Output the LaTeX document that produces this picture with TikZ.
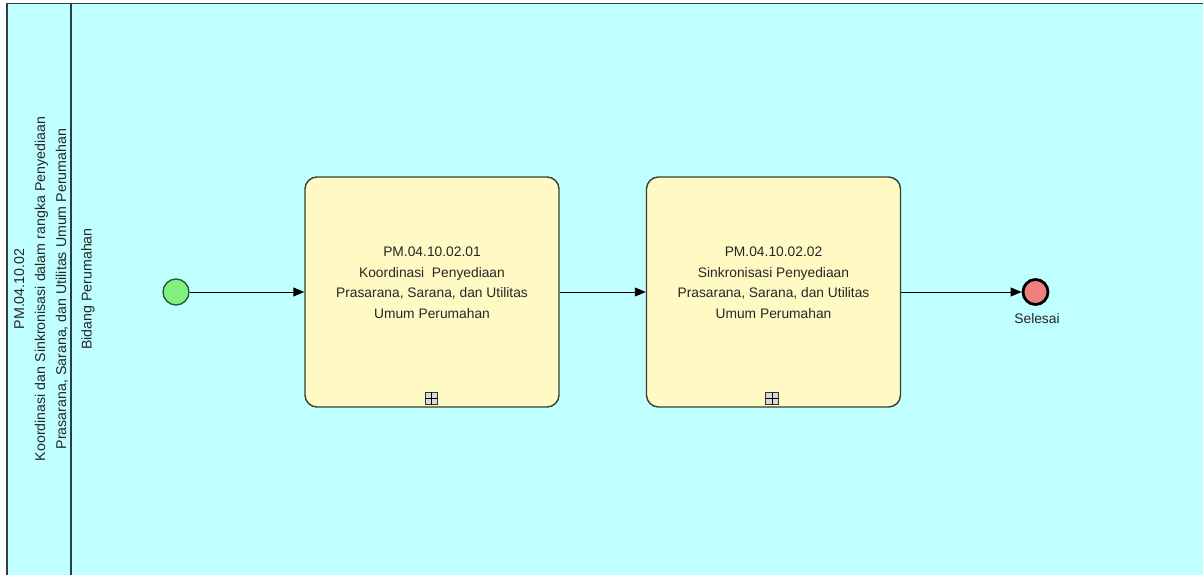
\documentclass[tikz,border=0pt]{standalone}
\usepackage{fontspec}
\setmainfont{Liberation Sans}
\usetikzlibrary{arrows.meta}
\definecolor{poolbg}{HTML}{BFFFFF}
\definecolor{poolline}{HTML}{2F3F3F}
\definecolor{taskfill}{HTML}{FFFAC4}
\definecolor{taskline}{HTML}{3A3F30}
\definecolor{startfill}{HTML}{80F080}
\definecolor{startline}{HTML}{1F5A2A}
\definecolor{endfill}{HTML}{F08080}
\tikzset{
  txt/.style={font=\fontsize{13.8}{20.5}\selectfont, text=black!85, inner sep=0pt},
  pooltxt/.style={font=\fontsize{14.2}{21}\selectfont, text=black!85, inner sep=0pt},
  taskbox/.style={draw=taskline, line width=1.4pt, fill=taskfill, rounded corners=12pt,
    minimum width=254pt, minimum height=230pt, inner sep=0pt},
  startev/.style={circle, draw=startline, line width=1.3pt, fill=startfill, minimum size=26pt, inner sep=0pt},
  endev/.style={circle, draw=black, line width=2.8pt, fill=endfill, minimum size=25pt, inner sep=0pt},
  flow/.style={line width=0.9pt, draw=black, -{Triangle[length=11pt,width=9pt]}},
  marker/.style={draw=black!80, line width=1pt, fill=white!85!black, minimum size=12.5pt, inner sep=0pt}
}
\begin{document}
\begin{tikzpicture}[x=1pt,y=-1pt]
\useasboundingbox (0,0) rectangle (1203,575);
\fill[white] (0,0) rectangle (1203,575);
\fill[poolbg] (7,3) rectangle (1203,575);
\draw[poolline, line width=1.6pt] (7,575) -- (7,3.5) -- (1203,3.5);
\draw[poolline, line width=1.6pt] (71,3.5) -- (71,575);
% pool and lane labels
\node[pooltxt, rotate=90, align=center] (pool) at (41,289) {PM.04.10.02\\Koordinasi dan Sinkronisasi dalam rangka Penyediaan\\Prasarana, Sarana, dan Utilitas Umum Perumahan};
\node[pooltxt, rotate=90] (lane) at (88,289) {Bidang Perumahan};
% events and tasks
\node[startev] (start) at (176,292) {};
\node[taskbox] (t1) at (432,292) {};
\node[txt, align=center] (t1l) at (432,282.5) {PM.04.10.02.01\\Koordinasi\ \ Penyediaan\\Prasarana, Sarana, dan Utilitas\\Umum Perumahan};
\node[marker] (m1) at (431.5,398.5) {};
\draw[line width=0.8pt] (m1.north) -- (m1.south) (m1.west) -- (m1.east);
\node[taskbox] (t2) at (773.5,292) {};
\node[txt, align=center] (t2l) at (773.5,282.5) {PM.04.10.02.02\\Sinkronisasi Penyediaan\\Prasarana, Sarana, dan Utilitas\\Umum Perumahan};
\node[marker] (m2) at (772,398.5) {};
\draw[line width=0.8pt] (m2.north) -- (m2.south) (m2.west) -- (m2.east);
\node[endev] (end) at (1035.5,292) {};
\node[txt, anchor=north] (endl) at (1037,313) {Selesai};
% flows
\draw[flow] (start) -- (t1);
\draw[flow] (t1) -- (t2);
\draw[flow] (t2) -- (end);
\end{tikzpicture}
\end{document}
